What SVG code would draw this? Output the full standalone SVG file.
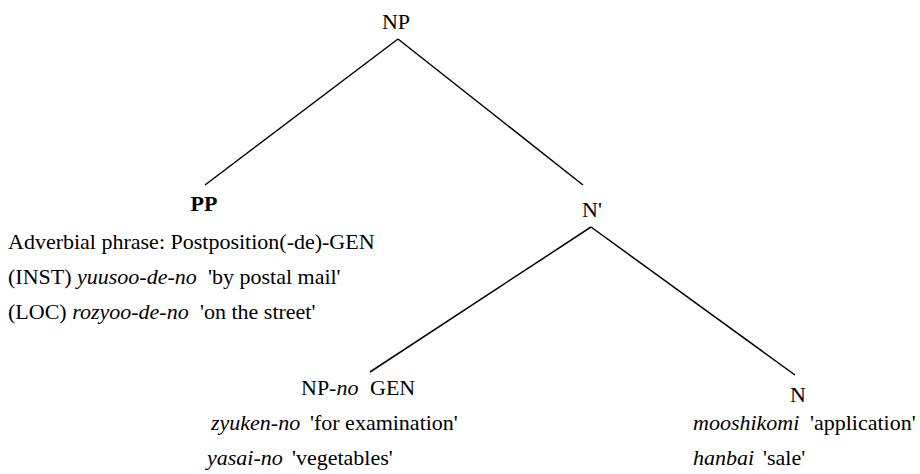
<svg xmlns="http://www.w3.org/2000/svg" width="920" height="474" viewBox="0 0 920 474">
<style>
text{font-family:"Liberation Serif","Tinos","DejaVu Serif","Times New Roman",serif;font-size:22px;fill:#000}
.i{font-style:italic}
.b{font-weight:bold}
.c{text-anchor:middle}
line{stroke:#000;stroke-width:1.5}
</style>
<rect width="920" height="474" fill="#fff"/>
<g id="connectors">
<line x1="398" y1="39" x2="205" y2="185"/>
<line x1="398" y1="39" x2="583" y2="185"/>
<line x1="591" y1="227" x2="370" y2="372"/>
<line x1="591" y1="227" x2="795" y2="375"/>
</g>
<g id="np"><text class="c" x="396" y="29">NP</text></g>
<g id="pp">
<text class="c b" x="204" y="211">PP</text>
<text x="8" y="249">Adverbial phrase: Postposition(-de)-GEN</text>
<text x="8" y="284">(INST) <tspan class="i">yuusoo-de-no</tspan></text>
<text x="208" y="284">'by postal mail'</text>
<text x="8" y="319">(LOC) <tspan class="i">rozyoo-de-no</tspan></text>
<text x="200" y="319">'on the street'</text>
</g>
<g id="nbar"><text class="c" x="592" y="217">N'</text></g>
<g id="npno">
<text x="301" y="395">NP-<tspan class="i">no</tspan></text>
<text x="370" y="395">GEN</text>
<text class="i" x="211" y="430">zyuken-no</text>
<text x="310" y="430">'for examination'</text>
<text class="i" x="207" y="465">yasai-no</text>
<text x="292" y="465">'vegetables'</text>
</g>
<g id="n">
<text class="c" x="798" y="402">N</text>
<text class="i" x="693" y="430">mooshikomi</text>
<text x="810" y="430">'application'</text>
<text class="i" x="693" y="465">hanbai</text>
<text x="763" y="465">'sale'</text>
</g>
</svg>
